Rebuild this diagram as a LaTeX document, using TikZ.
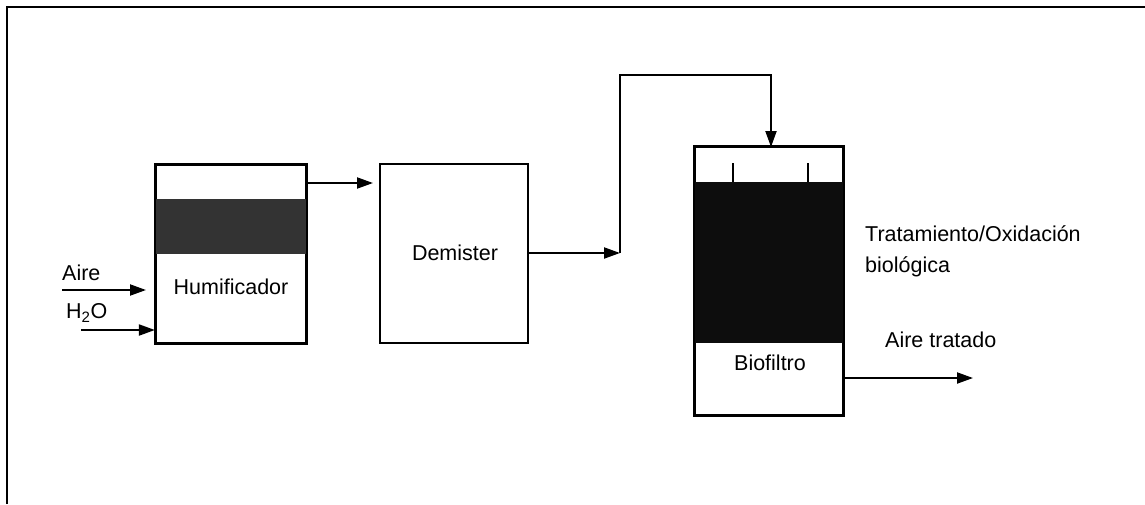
\documentclass[tikz,border=0pt]{standalone}
\usepackage{fontspec}
\setmainfont{Liberation Sans}
\usetikzlibrary{arrows.meta}
\begin{document}
\begin{tikzpicture}[x=1pt,y=-1pt,
  box/.style={draw=black,line width=2.2pt,fill=white},
  lbl/.style={font=\fontsize{21.5}{31}\selectfont,inner sep=0pt},
  flow/.style={line width=2pt,-{Triangle[length=16pt,width=11pt]}},
  pipe/.style={line width=2pt}]
\useasboundingbox (0,0) rectangle (1145,504);
\fill[white] (0,0) rectangle (1145,504);
% frame
\draw[line width=2.6pt] (7,504) -- (7,7) -- (1145,7);
% Humificador
\node[box,minimum width=150pt,minimum height=178pt,inner sep=0pt] (hum) at (231,254) {};
\fill[black!80] (156,199) rectangle (306,254);
\draw[line width=2.2pt] (hum.north west) rectangle (hum.south east);
\node[lbl] (humt) at (231,287) {Humificador};
% inputs
\node[lbl,anchor=west] (aire) at (62,273) {Aire};
\coordinate (airein) at (62,290);
\coordinate (aireend) at (146,290);
\draw[flow] (airein) -- (aireend);
\node[lbl,anchor=west] (h2o) at (66,313) {H\textsubscript{2}O};
\coordinate (h2oin) at (81,330);
\draw[flow] (h2oin) -- (h2oin -| hum.west);
% Demister
\node[box,minimum width=148pt,minimum height=179pt,inner sep=0pt] (dem) at (454,253.5) {};
\node[lbl] (demt) at (455,253) {Demister};
\coordinate (humout) at (306,183);
\coordinate (demin) at (373,183);
\draw[flow] (humout) -- (demin);
% Biofiltro
\node[box,minimum width=148pt,minimum height=268pt,inner sep=0pt] (bio) at (769,281) {};
\fill[black!95] (695,182) rectangle (843,343);
\draw[line width=2.2pt] (bio.north west) rectangle (bio.south east);
\draw[line width=1.6pt] (733,163) -- (733,182) (808,163) -- (808,182);
\node[lbl] (biot) at (770,363) {Biofiltro};
% Demister -> Biofiltro
\coordinate (j) at (620,253);
\coordinate (top) at (620,75);
\draw[flow] (dem.east |- j) -- (j);
\draw[pipe] (j) -- (top) -- (771,75);
\draw[flow] (771,74) -- (771,147);
% output
\coordinate (out) at (973,378);
\draw[flow] (bio.east |- out) -- (out);
\node[lbl,anchor=west] (at) at (885,340) {Aire tratado};
\node[lbl,anchor=west,align=left] (ox) at (865,251.5) {Tratamiento/Oxidación\\biológica};
\end{tikzpicture}
\end{document}
